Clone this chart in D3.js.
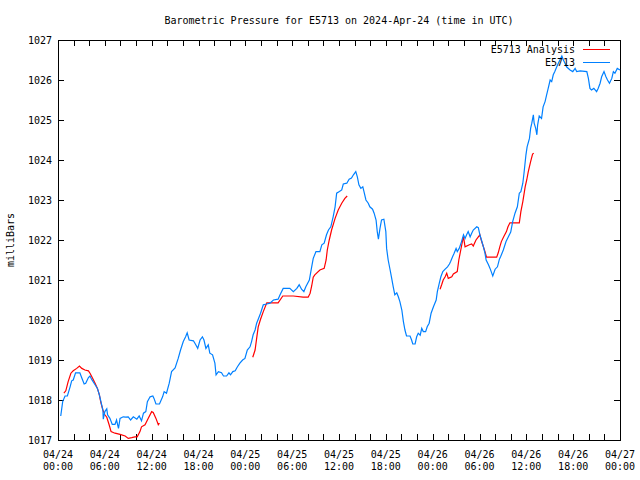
<!DOCTYPE html>
<html>
<head>
<meta charset="utf-8">
<script src="https://cdn.jsdelivr.net/npm/d3@7"></script>
<style>
  body { margin: 0; background: #fff; }
  text { font-family: "DejaVu Sans Mono", "Liberation Mono", monospace; font-size: 10px; fill: #000; }
</style>
</head>
<body>
<svg id="chart" width="640" height="480"></svg>
<script>
// ---- data (hours after 2024-04-24 00:00 UTC, pressure in mb) ----
const obsHours = [0.35,0.6,0.9,1.2,1.55,1.75,1.95,2.25,2.8,3.05,3.35,3.55,3.9,4.1,4.3,4.5,4.75,5.05,5.3,5.5,5.75,5.8,6.0,6.25,6.35,6.65,6.95,7.3,7.5,7.75,7.95,8.35,8.7,9.0,9.3,9.65,10.1,10.4,10.7,10.95,11.25,11.45,11.8,12.15,12.3,12.55,13.0,13.4,13.6,13.9,14.25,14.55,15.0,15.4,15.7,16.05,16.35,16.55,16.8,17.35,17.65,17.9,18.2,18.5,18.7,18.95,19.25,19.45,19.8,20.1,20.25,20.55,20.95,21.2,21.6,21.9,22.1,22.4,22.7,22.95,23.3,23.65,23.95,24.25,24.6,24.8,25.0,25.25,25.45,25.65,25.95,26.3,26.75,27.15,27.6,28.2,28.45,28.85,29.7,30.15,30.6,30.9,31.2,31.5,31.75,32.2,32.5,32.7,33.05,33.55,33.8,34.1,34.4,34.65,34.95,35.25,35.5,35.7,36.05,36.35,36.55,37.0,37.3,37.6,37.85,38.15,38.35,38.55,38.8,39.05,39.2,39.45,39.75,39.95,40.3,40.5,40.75,40.9,41.05,41.25,41.45,41.75,42.0,42.1,42.3,42.55,42.75,42.95,43.15,43.4,43.6,43.8,44.05,44.25,44.45,44.65,45.1,45.3,45.45,45.75,45.95,46.15,46.4,46.6,46.8,47.1,47.3,47.55,47.8,48.1,48.45,48.6,48.85,49.05,49.3,49.6,49.9,50.15,50.3,50.55,50.75,51.0,51.15,51.4,51.7,51.95,52.15,52.35,52.55,52.8,53.0,53.2,53.65,53.85,54.05,54.25,54.5,54.7,54.85,55.15,55.35,55.7,56.0,56.3,56.55,56.7,57.05,57.4,57.7,58.0,58.25,58.55,58.85,59.1,59.3,59.55,59.7,59.95,60.1,60.4,60.55,60.7,60.9,61.0,61.2,61.35,61.45,61.65,61.95,62.15,62.4,62.6,62.8,63.05,63.25,63.45,63.65,63.9,64.1,64.3,64.55,64.75,64.95,65.15,65.6,65.95,66.25,66.45,66.9,67.75,67.95,68.15,68.35,68.65,69.0,69.2,69.45,69.65,69.95,70.2,70.4,70.65,70.95,71.15,71.35,71.65,72.0];
const obsPressure = [1017.6,1017.96,1018.1,1018.1,1018.33,1018.48,1018.5,1018.68,1018.68,1018.55,1018.4,1018.42,1018.56,1018.6,1018.52,1018.46,1018.38,1018.29,1018.13,1017.96,1017.75,1017.52,1017.71,1017.78,1017.63,1017.54,1017.39,1017.39,1017.5,1017.29,1017.54,1017.58,1017.57,1017.58,1017.5,1017.58,1017.52,1017.6,1017.48,1017.67,1017.71,1017.96,1018.08,1018.1,1018.04,1017.9,1017.9,1018.08,1018.21,1018.17,1018.42,1018.71,1018.8,1019.04,1019.25,1019.46,1019.58,1019.68,1019.5,1019.48,1019.38,1019.29,1019.5,1019.58,1019.5,1019.29,1019.38,1019.17,1019.13,1018.92,1018.63,1018.71,1018.68,1018.6,1018.6,1018.68,1018.63,1018.71,1018.73,1018.82,1018.92,1019.0,1019.04,1019.25,1019.33,1019.46,1019.63,1019.75,1019.92,1020.02,1020.17,1020.38,1020.4,1020.42,1020.5,1020.52,1020.63,1020.79,1020.79,1020.71,1020.79,1020.88,1020.77,1020.71,1020.83,1021.0,1021.33,1021.54,1021.71,1021.71,1021.88,1021.92,1022.13,1022.25,1022.33,1022.58,1022.83,1023.17,1023.21,1023.25,1023.4,1023.42,1023.52,1023.55,1023.63,1023.71,1023.58,1023.38,1023.29,1023.33,1023.21,1023.0,1022.92,1022.83,1022.77,1022.67,1022.5,1022.21,1022.02,1022.29,1022.5,1022.52,1022.21,1021.79,1021.5,1021.25,1021.04,1020.83,1020.63,1020.68,1020.58,1020.46,1020.25,1019.96,1019.75,1019.6,1019.6,1019.5,1019.4,1019.4,1019.58,1019.67,1019.62,1019.79,1019.71,1019.71,1019.83,1019.92,1020.17,1020.33,1020.5,1020.71,1020.92,1021.08,1021.21,1021.27,1021.33,1021.4,1021.46,1021.58,1021.67,1021.79,1021.71,1021.79,1021.96,1022.13,1022.04,1022.13,1022.21,1022.08,1022.17,1022.25,1022.33,1022.31,1022.13,1022.0,1021.83,1021.67,1021.5,1021.38,1021.29,1021.1,1021.27,1021.33,1021.52,1021.58,1021.75,1021.96,1022.08,1022.2,1022.46,1022.67,1022.83,1023.17,1023.21,1023.42,1023.67,1024.13,1024.33,1024.54,1024.79,1024.92,1025.13,1024.92,1024.79,1024.63,1024.88,1025.1,1025.04,1025.33,1025.46,1025.63,1025.79,1026.0,1025.96,1026.13,1026.21,1026.33,1026.42,1026.5,1026.6,1026.5,1026.42,1026.33,1026.25,1026.21,1026.29,1026.21,1026.23,1026.21,1026.04,1025.79,1025.75,1025.79,1025.71,1025.79,1025.92,1026.08,1026.21,1026.08,1026.0,1025.92,1026.04,1026.21,1026.17,1026.29,1026.25];

// Analysis series; null marks a gap between analysis runs
const anaHours = [0.75,1.0,1.3,1.65,1.95,2.4,2.75,3.05,3.45,3.9,4.1,4.45,4.75,5.05,5.3,5.5,5.75,6.0,6.25,6.55,6.8,7.3,7.95,8.6,9.0,9.45,9.85,10.15,10.5,10.7,11.15,11.55,12.0,12.2,12.55,12.85,13.0,
  19.0,
  24.95,25.25,25.45,25.65,25.95,26.3,26.75,28.2,28.8,30.15,31.4,32.05,32.3,32.5,32.7,32.9,33.55,34.1,34.35,34.5,34.75,35.05,35.5,35.9,36.35,36.75,37.05,
  43.0,
  48.95,49.15,49.35,49.6,49.8,50.0,50.45,50.65,51.15,51.35,51.6,51.85,51.95,52.15,52.7,53.0,53.2,53.55,53.85,54.05,54.25,54.5,54.7,54.9,56.2,56.4,56.6,56.8,57.1,57.45,57.65,57.9,59.1,59.3,59.55,59.85,60.05,60.25,60.55,60.8,60.95];
const anaPressure = [1018.17,1018.23,1018.46,1018.67,1018.73,1018.79,1018.85,1018.79,1018.75,1018.73,1018.67,1018.54,1018.42,1018.29,1018.13,1017.93,1017.75,1017.63,1017.57,1017.38,1017.21,1017.17,1017.14,1017.1,1017.04,1017.06,1017.08,1017.08,1017.21,1017.33,1017.38,1017.54,1017.71,1017.69,1017.54,1017.38,1017.42,
  null,
  1019.07,1019.25,1019.54,1019.83,1020.02,1020.21,1020.43,1020.43,1020.6,1020.6,1020.57,1020.57,1020.67,1020.85,1021.07,1021.13,1021.25,1021.29,1021.5,1021.75,1022.0,1022.25,1022.54,1022.75,1022.92,1023.04,1023.1,
  null,
  1020.77,1020.88,1021.0,1021.08,1021.17,1021.04,1021.08,1021.15,1021.21,1021.5,1021.75,1022.0,1022.08,1021.83,1021.88,1021.9,1021.85,1022.0,1022.08,1022.13,1021.98,1021.83,1021.71,1021.57,1021.57,1021.68,1021.83,1021.96,1022.08,1022.21,1022.33,1022.43,1022.43,1022.71,1022.96,1023.33,1023.5,1023.71,1023.96,1024.15,1024.17];

const seriesNames = ["E5713 Analysis", "E5713"];
const yTicks = [1017,1018,1019,1020,1021,1022,1023,1024,1025,1026,1027];
const titleText = "Barometric Pressure for E5713 on 2024-Apr-24 (time in UTC)";
const yLabel = "milliBars";

// ---- layout ----
const svg = d3.select("#chart");
const L = 58, R = 620, T = 40, B = 440;
const t0 = Date.UTC(2024, 3, 24, 0, 0);
const toDate = h => new Date(t0 + h * 3600e3);

const x = d3.scaleUtc().domain([toDate(0), toDate(72)]).range([L, R]);
const y = d3.scaleLinear().domain([1017, 1027]).range([B, T]);

const obs = obsHours.map((h, i) => ({ t: toDate(h), p: obsPressure[i] }));
const ana = anaHours.map((h, i) => ({ t: toDate(h), p: anaPressure[i] }));

// title
svg.append("text").attr("x", 339).attr("y", 24).attr("text-anchor", "middle").text(titleText);

// y-axis label
svg.append("text").attr("transform", "translate(14,240) rotate(-90)")
  .attr("text-anchor", "middle").text(yLabel);

// axes (ticks inward on all four sides)
const xTickVals = d3.range(0, 73, 2).map(toDate);
const fmtDate = d3.utcFormat("%m/%d"), fmtTime = d3.utcFormat("%H:%M");
const tl = 6;

const gL = svg.append("g").attr("transform", `translate(${L},0)`)
  .call(d3.axisRight(y).tickValues(yTicks).tickSize(tl).tickFormat(""));
const gR = svg.append("g").attr("transform", `translate(${R},0)`)
  .call(d3.axisLeft(y).tickValues(yTicks).tickSize(tl).tickFormat(""));
const gB = svg.append("g").attr("transform", `translate(0,${B})`)
  .call(d3.axisTop(x).tickValues(xTickVals).tickSize(tl).tickFormat(""));
const gT = svg.append("g").attr("transform", `translate(0,${T})`)
  .call(d3.axisBottom(x).tickValues(xTickVals).tickSize(tl).tickFormat(""));
[gL, gR, gB, gT].forEach(g => {
  g.select(".domain").remove();
  g.selectAll("line").attr("stroke", "#000").attr("shape-rendering", "crispEdges");
});

// y tick labels
svg.append("g").selectAll("text").data(yTicks).join("text")
  .attr("x", L - 6).attr("y", d => y(d) + 4).attr("text-anchor", "end").text(d => d);

// x tick labels (every 6 hours, two lines)
const xLabelVals = d3.range(0, 73, 6).map(toDate);
const xl = svg.append("g").selectAll("g").data(xLabelVals).join("g")
  .attr("transform", d => `translate(${x(d)},0)`);
xl.append("text").attr("y", 458).attr("text-anchor", "middle").text(d => fmtDate(d));
xl.append("text").attr("y", 470).attr("text-anchor", "middle").text(d => fmtTime(d));

// frame
svg.append("rect").attr("x", L + 0.5).attr("y", T + 0.5).attr("width", R - L).attr("height", B - T)
  .attr("fill", "none").attr("stroke", "#000").attr("shape-rendering", "crispEdges");

const colors = ["#ff0000", "#0080ff"];
const line = d3.line().defined(d => d.p != null).x(d => x(d.t)).y(d => y(d.p));

svg.append("path").datum(ana).attr("d", line).attr("fill", "none")
  .attr("stroke", colors[0]).attr("stroke-width", 1.2);
svg.append("path").datum(obs).attr("d", line).attr("fill", "none")
  .attr("stroke", colors[1]).attr("stroke-width", 1.2);

// legend
const leg = svg.append("g").selectAll("g").data(seriesNames).join("g")
  .attr("transform", (d, i) => `translate(0,${49 + i * 13})`);
leg.append("text").attr("x", 575).attr("y", 4).attr("text-anchor", "end").text(d => d);
leg.append("line").attr("x1", 583).attr("x2", 610).attr("y1", 0.5).attr("y2", 0.5)
  .attr("stroke", (d, i) => colors[i]).attr("stroke-width", 1);
</script>
</body>
</html>
